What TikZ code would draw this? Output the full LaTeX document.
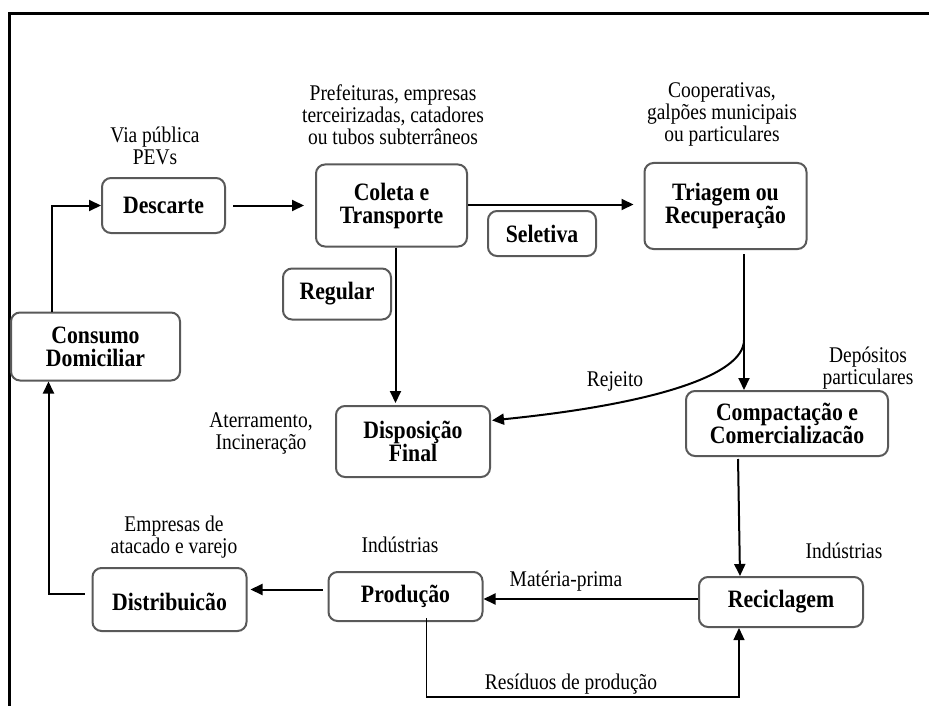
\documentclass[tikz,border=0pt]{standalone}
\usepackage{fontspec}
\setmainfont[FakeStretch=0.87]{Liberation Serif}
\usetikzlibrary{arrows.meta}

\tikzset{
  proc_box/.style={draw=black!65,line width=2pt,rounded corners=9pt,fill=white,
    inner sep=0pt,align=center,font=\fontsize{25}{23}\selectfont\bfseries},
  note_txt/.style={inner sep=0pt,align=center,font=\fontsize{22.4}{22}\selectfont},
  flow_line/.style={line width=2pt,-{Triangle[length=12pt,width=11pt]}},
  thin_flow/.style={line width=1.2pt,-{Triangle[length=12pt,width=11pt]}},
}

\begin{document}
\begin{tikzpicture}[
  x=1pt, y=-1pt,
  every node/.style={color=black},
  frame line/.style={line width=3pt},
  ]

  \useasboundingbox (0,0) rectangle (929,706);
  \draw[frame line] (9.5,706) |- (929,14);

  % process boxes
  \node[proc_box,minimum width=123pt,minimum height=55pt] (descarte) at (163.5,205.5) {Descarte};
  \node[proc_box,minimum width=151pt,minimum height=82pt] (coleta) at (391.5,205.5) {Coleta e\\Transporte};
  \node[proc_box,minimum width=162pt,minimum height=86pt] (triagem) at (725.5,206) {Triagem ou\\Recuperação};
  \node[proc_box,minimum width=108pt,minimum height=45pt] (seletiva) at (542,233.5) {Seletiva};
  \node[proc_box,minimum width=108pt,minimum height=51pt] (regular) at (337,294) {Regular};
  \node[proc_box,minimum width=169pt,minimum height=68pt] (consumo) at (95.5,346.5) {Consumo\\Domiciliar};
  \node[proc_box,minimum width=154pt,minimum height=71pt] (disposicao) at (413,441.5) {Disposição\\Final};
  \node[proc_box,minimum width=202pt,minimum height=65pt] (compactacao) at (787,423.5) {Compactação e\\Comercializacão};
  \node[proc_box,minimum width=164pt,minimum height=50pt] (reciclagem) at (781,602) {Reciclagem};
  \node[proc_box,minimum width=154pt,minimum height=49pt] (producao) at (405.5,596.5) {Produção};
  \node[proc_box,minimum width=154pt,minimum height=63pt] (distribuicao) at (169.5,599.5) {\mbox{}\\Distribuicão};

  % side notes
  \node[note_txt] (via) at (155,146) {Via pública\\PEVs};
  \node[note_txt] (prefeituras) at (393,115) {Prefeituras, empresas\\terceirizadas, catadores\\ou tubos subterrâneos};
  \node[note_txt] (cooperativas) at (722,114) {Cooperativas,\\galpões municipais\\ou particulares};
  \node[note_txt] (depositos) at (868,368) {Depósitos\\particulares};
  \node[note_txt] (rejeito) at (615,381) {Rejeito};
  \node[note_txt] (aterramento) at (261,433) {Aterramento,\\Incineração};
  \node[note_txt] (empresas) at (174,537) {Empresas de\\atacado e varejo};
  \node[note_txt] (ind_prod) at (400,545) {Indústrias};
  \node[note_txt] (ind_recic) at (844,551) {Indústrias};
  \node[note_txt] (materia) at (566,581) {Matéria-prima};
  \node[note_txt] (residuos) at (571,684) {Resíduos de produção};

  % connectors
  \coordinate (rej_start) at (744,340);
  \coordinate (res_low) at (580,697);

  \draw[flow_line] ([xshift=-44pt]consumo.north) |- (descarte.west);
  \draw[flow_line,shorten <=7pt,shorten >=11pt] (descarte.east) -- (descarte.east -| coleta.west);
  \draw[flow_line,shorten >=10pt] ([yshift=1pt]coleta.east) -- ([yshift=1pt]coleta.east -| triagem.west);
  \draw[flow_line,shorten >=2pt] ([xshift=4pt]coleta.south) -- ([xshift=4pt]coleta.south |- disposicao.north);
  \draw[flow_line,shorten <=4pt] ([xshift=18.5pt]triagem.south) -- ([xshift=18.5pt]triagem.south |- compactacao.north);
  \draw[flow_line,shorten >=1pt] (rej_start) .. controls (744,375) and (655,404) .. ([yshift=21pt]disposicao.east);
  \draw[flow_line,shorten <=2pt] ([xshift=-49pt]compactacao.south) -- ([xshift=-41pt]reciclagem.north);
  \draw[flow_line] ([yshift=3pt]reciclagem.west) -- ([yshift=3pt]reciclagem.west -| producao.east);
  \draw[thin_flow] ([xshift=21pt,yshift=4pt]producao.south) |- (res_low) -| ([xshift=-42pt]reciclagem.south);
  \draw[flow_line,shorten <=5pt,shorten >=3pt] ([yshift=7pt]producao.west) -- ([yshift=7pt]producao.west -| distribuicao.east);
  \draw[flow_line,shorten <=7pt] ([yshift=6pt]distribuicao.west) -| ([xshift=-47pt]consumo.south);

\end{tikzpicture}
\end{document}
